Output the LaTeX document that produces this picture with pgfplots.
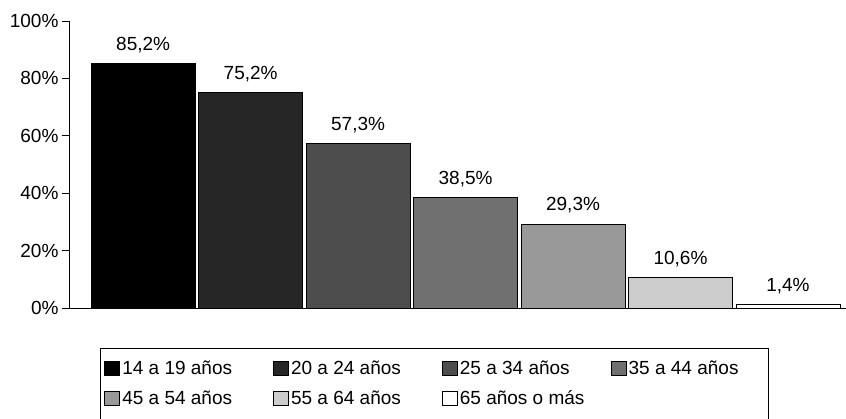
\documentclass[border=0pt]{standalone}
\usepackage{pgfplots}
\pgfplotsset{compat=1.18}
\usepackage{fontspec}
\setmainfont{Liberation Sans}

\definecolor{c1}{HTML}{000000}
\definecolor{c2}{HTML}{262626}
\definecolor{c3}{HTML}{4D4D4D}
\definecolor{c4}{HTML}{707070}
\definecolor{c5}{HTML}{999999}
\definecolor{c6}{HTML}{CCCCCC}
\definecolor{c7}{HTML}{FFFFFF}

\newcommand{\lbl}[1]{\makebox[134pt][l]{#1}}

\begin{document}
\begin{tikzpicture}
\path[use as bounding box] (-69pt,-110pt) rectangle (777pt,308pt);
\begin{axis}[
  at={(0pt,0pt)}, anchor=south west, scale only axis,
  width=777pt, height=287pt,
  xmin=-0.69, xmax=6.54, ymin=0, ymax=100,
  axis x line*=bottom, axis y line*=left,
  xtick=\empty,
  ytick={0,20,...,100},
  yticklabels={0\%,20\%,40\%,60\%,80\%,100\%},
  tick align=outside, major tick length=7pt,
  tick style={black, line width=0.8pt},
  axis line style={black, line width=0.8pt},
  ybar, bar width=0.967, bar shift=0pt,
  font=\fontsize{19}{23}\selectfont,
  /pgf/number format/assume math mode=true,
  every bar/.append style={draw=black!85, line width=0.8pt},
  nodes near coords={\pgfmathprintnumber[fixed,precision=1,fixed zerofill,use comma,assume math mode=true]{\pgfplotspointmeta}\%},
  nodes near coords style={font=\fontsize{19}{23}\selectfont, black, yshift=7pt},
  legend columns=4,
  legend cell align=left,
  legend style={at={(axis description cs:0.040,-0.139)}, anchor=north west,
    draw=black, line width=0.8pt, font=\fontsize{19}{23}\selectfont,
    inner xsep=4pt, inner ysep=11pt, row sep=10pt,
    /tikz/every even column/.append style={column sep=15pt}},
  legend image code/.code={\draw[#1, draw=black, line width=0.8pt] (0pt,-7pt) rectangle (15pt,7pt);},
]
\addplot[fill=c1] coordinates {(0,85.2)};
\addplot[fill=c2] coordinates {(1,75.2)};
\addplot[fill=c3] coordinates {(2,57.3)};
\addplot[fill=c4] coordinates {(3,38.5)};
\addplot[fill=c5] coordinates {(4,29.3)};
\addplot[fill=c6] coordinates {(5,10.6)};
\addplot[fill=c7] coordinates {(6,1.4)};
\legend{\lbl{14 a 19 años},\lbl{20 a 24 años},\lbl{25 a 34 años},\lbl{35 a 44 años},\lbl{45 a 54 años},\lbl{55 a 64 años},\lbl{65 años o más}}
\end{axis}
\end{tikzpicture}
\end{document}
